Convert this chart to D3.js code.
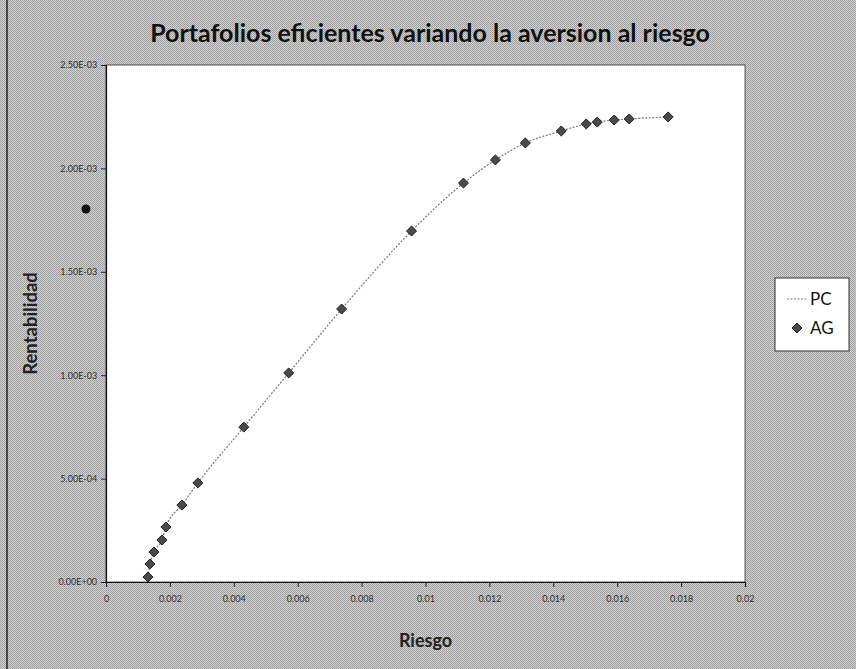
<!DOCTYPE html>
<html>
<head>
<meta charset="utf-8">
<script src="https://cdn.jsdelivr.net/npm/d3@7"></script>
<style>
  html, body { margin: 0; padding: 0; background: #c0c0c0; }
  svg { display: block; }
</style>
</head>
<body>
<div id="chart"></div>
<script>
// Efficient portfolios: risk (x) vs return (y)
const riesgo = [0.001313, 0.001375, 0.0015, 0.00175, 0.001875, 0.002375, 0.002875,
  0.004313, 0.005719, 0.007375, 0.009563, 0.011188, 0.012188, 0.013125, 0.01425,
  0.015031, 0.015375, 0.015906, 0.016375, 0.017594];
const rentabilidad = [0.0000242, 0.000087, 0.000145, 0.000203, 0.000266, 0.000372, 0.000479,
  0.000749, 0.001011, 0.00132, 0.001697, 0.001929, 0.002041, 0.002123, 0.002181,
  0.002215, 0.002224, 0.002234, 0.002239, 0.002249];
const xTicks = [0, 0.002, 0.004, 0.006, 0.008, 0.01, 0.012, 0.014, 0.016, 0.018, 0.02];
const yTicks = [0, 0.0005, 0.001, 0.0015, 0.002, 0.0025];
const xTickLabels = ["0", "0.002", "0.004", "0.006", "0.008", "0.01", "0.012", "0.014", "0.016", "0.018", "0.02"];
const yTickLabels = ["0.00E+00", "5.00E-04", "1.00E-03", "1.50E-03", "2.00E-03", "2.50E-03"];
const seriesNames = ["PC", "AG"];
const title = "Portafolios eficientes variando la aversion al riesgo";

const W = 856, H = 669;
const m = { left: 106, right: 111, top: 65, bottom: 87 };
const pw = W - m.left - m.right, ph = H - m.top - m.bottom;

const svg = d3.select("#chart").append("svg").attr("width", W).attr("height", H);

// dithered grey backdrop
const defs = svg.append("defs");
const pat = defs.append("pattern").attr("id", "dither")
  .attr("width", 2).attr("height", 2).attr("patternUnits", "userSpaceOnUse");
pat.append("rect").attr("width", 2).attr("height", 2).attr("fill", "#d0d0d0");
pat.append("rect").attr("width", 1).attr("height", 1).attr("fill", "#9c9c9c");
pat.append("rect").attr("x", 1).attr("y", 1).attr("width", 1).attr("height", 1).attr("fill", "#a6a6a6");
svg.append("rect").attr("width", W).attr("height", H).attr("fill", "url(#dither)");
svg.append("line").attr("x1", 7).attr("x2", 7).attr("y1", 0).attr("y2", H)
  .attr("stroke", "#222").attr("stroke-width", 1.5);
svg.append("circle").attr("cx", 86).attr("cy", 209).attr("r", 4.5).attr("fill", "#111");

const font = "Lato, 'Open Sans', sans-serif";

svg.append("text").attr("x", 430).attr("y", 42).attr("text-anchor", "middle")
  .attr("font-family", font).attr("font-weight", "bold").attr("font-size", 25)
  .attr("fill", "#111").text(title);

const x = d3.scaleLinear().domain([0, 0.02]).range([0, pw]);
const y = d3.scaleLinear().domain([0, 0.0025]).range([ph, 0]);

const g = svg.append("g").attr("transform", `translate(${m.left},${m.top})`);
g.append("rect").attr("width", pw).attr("height", ph).attr("fill", "#fff")
  .attr("stroke", "#333").attr("stroke-width", 0.8);

const xAxis = g.append("g").attr("transform", `translate(0,${ph})`)
  .call(d3.axisBottom(x).tickValues(xTicks).tickSize(5).tickFormat((d, i) => xTickLabels[i]));
const yAxis = g.append("g")
  .call(d3.axisLeft(y).tickValues(yTicks).tickSize(5).tickFormat((d, i) => yTickLabels[i]));
[xAxis, yAxis].forEach(a => {
  a.select(".domain").attr("stroke", "#111").attr("stroke-width", 1.2);
  a.selectAll(".tick line").attr("stroke", "#222");
  a.selectAll(".tick text").attr("font-family", font).attr("font-size", 9).attr("fill", "#333");
});
xAxis.selectAll(".tick text").attr("dy", "1.3em");
yAxis.selectAll(".tick text").attr("dx", "-0.1em");

const pts = riesgo.map((r, i) => [r, rentabilidad[i]]);

// PC: dotted connecting line
g.append("path").datum(pts)
  .attr("fill", "none").attr("stroke", "#777").attr("stroke-width", 1.2)
  .attr("stroke-dasharray", "2,1.5")
  .attr("d", d3.line().x(d => x(d[0])).y(d => y(d[1])).curve(d3.curveMonotoneX));

// AG: diamond markers
const diamond = d3.symbol().type(d3.symbolDiamond2).size(64);
g.selectAll(".ag").data(pts).join("path").attr("class", "ag")
  .attr("transform", d => `translate(${x(d[0])},${y(d[1])})`)
  .attr("d", diamond).attr("fill", "#4a4a4a").attr("stroke", "#1e1e1e").attr("stroke-width", 1);

// axis titles
svg.append("text").attr("x", m.left + pw / 2).attr("y", 647).attr("text-anchor", "middle")
  .attr("font-family", font).attr("font-weight", "bold").attr("font-size", 18)
  .attr("fill", "#222").text("Riesgo");
svg.append("text").attr("transform", `translate(37,${m.top + ph / 2}) rotate(-90)`)
  .attr("text-anchor", "middle")
  .attr("font-family", font).attr("font-weight", "bold").attr("font-size", 18.5)
  .attr("fill", "#222").text("Rentabilidad");

// legend
const lg = svg.append("g").attr("transform", "translate(775,278)");
lg.append("rect").attr("width", 74).attr("height", 73).attr("fill", "#fff")
  .attr("stroke", "#333").attr("stroke-width", 1);
lg.append("line").attr("x1", 12).attr("x2", 32).attr("y1", 21).attr("y2", 21)
  .attr("stroke", "#777").attr("stroke-width", 1.2).attr("stroke-dasharray", "2,1.5");
lg.append("path").attr("transform", "translate(22,50)").attr("d", diamond)
  .attr("fill", "#4a4a4a").attr("stroke", "#1e1e1e");
lg.selectAll(".lt").data(seriesNames).join("text").attr("class", "lt")
  .attr("x", 35).attr("y", (d, i) => 27 + i * 29)
  .attr("font-family", font).attr("font-size", 17).attr("fill", "#111").text(d => d);
</script>
</body>
</html>
